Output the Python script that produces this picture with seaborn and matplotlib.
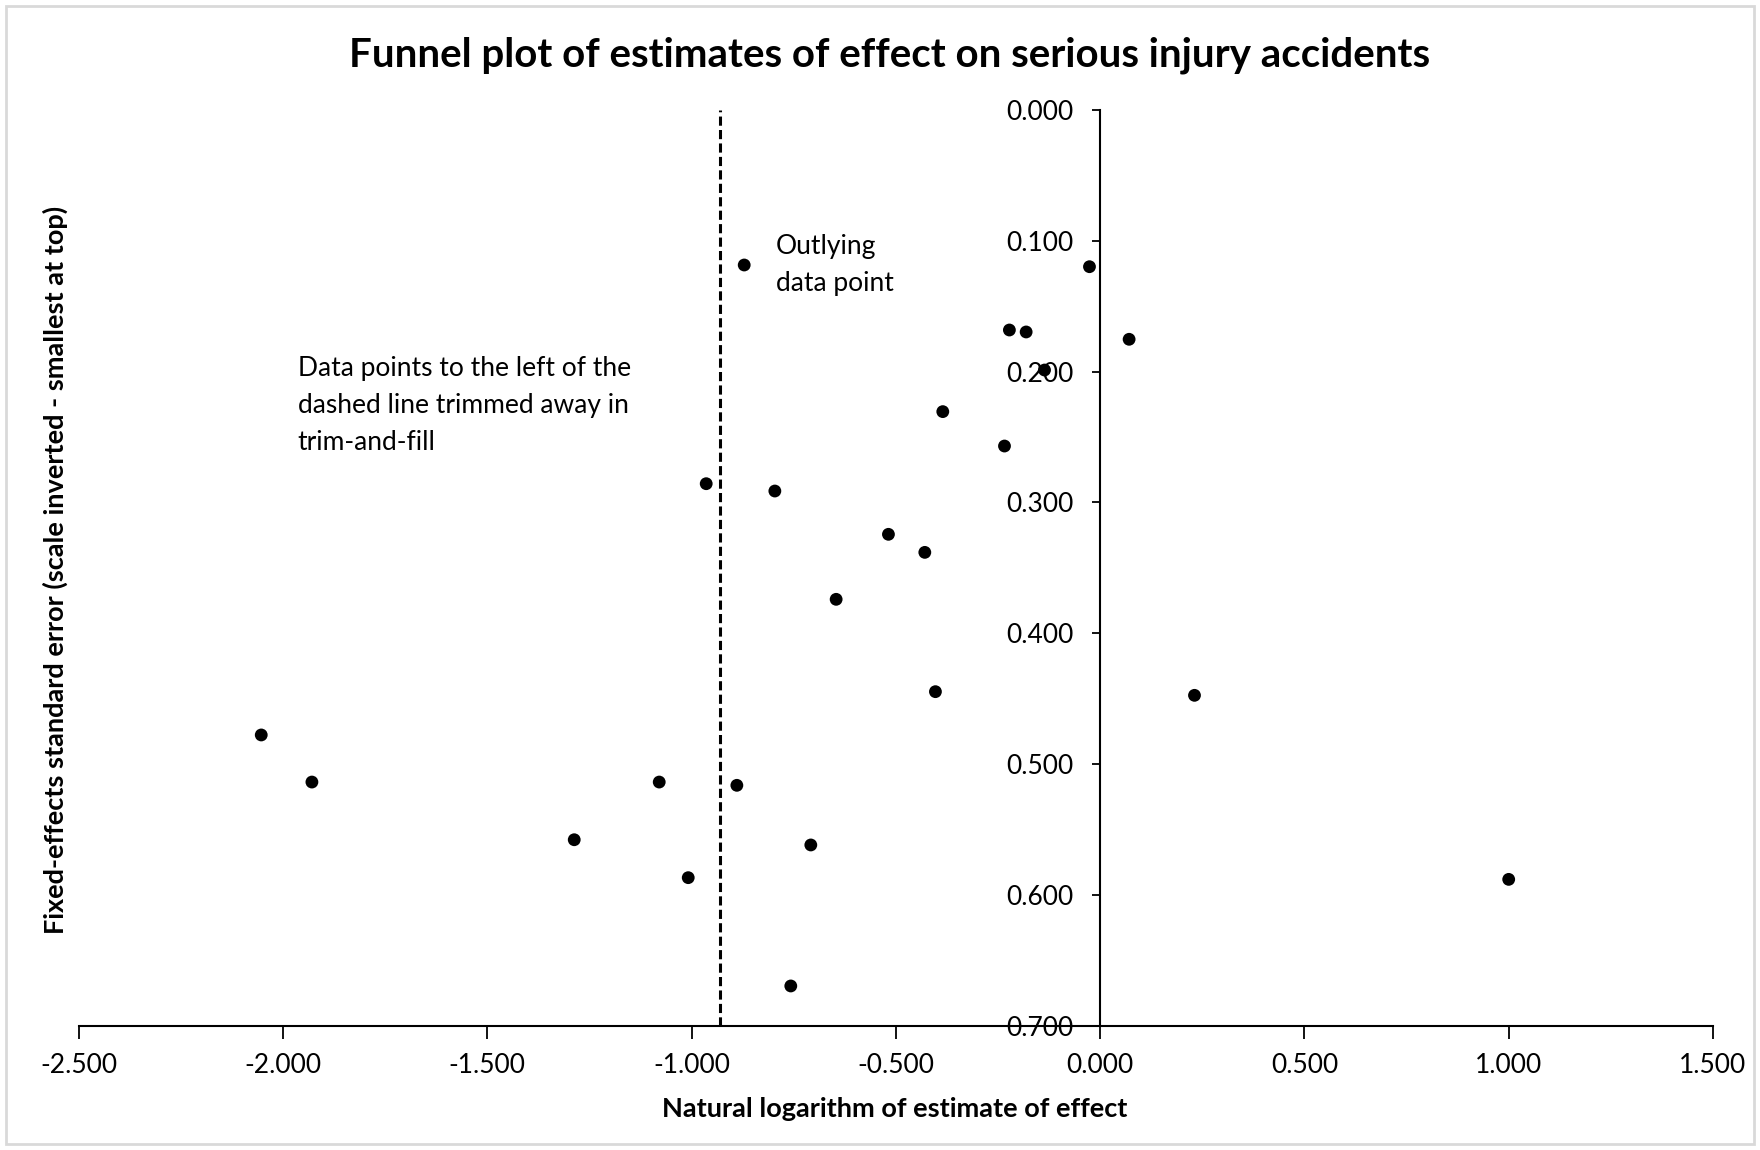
import matplotlib
matplotlib.use("Agg")
import matplotlib.pyplot as plt
from matplotlib.patches import Rectangle
from matplotlib.ticker import FormatStrFormatter
import seaborn as sns
import pandas as pd

# Log effect estimates and their fixed-effects standard errors
log_effect = [
    -0.871, -0.026, -0.222, -0.181, 0.071, -0.136, -0.385, -0.234,
    -0.964, -0.796, -0.518, -0.429, -0.646, -0.403, 0.231, -2.053,
    -1.929, -1.079, -0.889, -1.287, -0.708, -1.008, 1.000, -0.757,
]
std_error = [
    0.1185, 0.1198, 0.1682, 0.1697, 0.1753, 0.1988, 0.2306, 0.2569,
    0.2857, 0.2913, 0.3244, 0.3382, 0.3741, 0.4447, 0.4475, 0.4778,
    0.5138, 0.5138, 0.5163, 0.5579, 0.5619, 0.5869, 0.5882, 0.6697,
]
trim_cutoff = -0.930

x_ticks = [-2.5, -2.0, -1.5, -1.0, -0.5, 0.0, 0.5, 1.0, 1.5]
y_ticks = [0.0, 0.1, 0.2, 0.3, 0.4, 0.5, 0.6, 0.7]

title = "Funnel plot of estimates of effect on serious injury accidents"
x_label = "Natural logarithm of estimate of effect"
y_label = "Fixed-effects standard error (scale inverted - smallest at top)"
note_outlier = "Outlying\ndata point"
note_trim = "Data points to the left of the\ndashed line trimmed away in\ntrim-and-fill"

df = pd.DataFrame({"log_effect": log_effect, "std_error": std_error})

sns.set_style("white")
plt.rcParams["font.family"] = ["Lato", "DejaVu Sans"]

W, H = 1760, 1150
fig = plt.figure(figsize=(W / 100, H / 100), dpi=100)
ax = fig.add_axes([78.6 / W, 1 - 1025.6 / H, (1713 - 78.6) / W, (1025.6 - 110) / H])

sns.scatterplot(data=df, x="log_effect", y="std_error", ax=ax,
                color="black", s=85, edgecolor="none", linewidth=0, zorder=3)

ax.axvline(trim_cutoff, color="black", linewidth=2.2, dashes=(3, 1.4), zorder=2)

ax.set_xlim(-2.5, 1.5)
ax.set_ylim(0.7, 0.0)
ax.set_xticks(x_ticks)
ax.set_yticks(y_ticks)
ax.xaxis.set_major_formatter(FormatStrFormatter("%.3f"))
ax.yaxis.set_major_formatter(FormatStrFormatter("%.3f"))

ax.spines["top"].set_visible(False)
ax.spines["right"].set_visible(False)
ax.spines["left"].set_position(("data", 0.0))
for side in ("left", "bottom"):
    ax.spines[side].set_color("black")
    ax.spines[side].set_linewidth(1.5)

ax.tick_params(axis="x", direction="out", length=9, width=1.3, pad=11,
               labelsize=19, colors="black", bottom=True)
ax.tick_params(axis="y", direction="out", length=6, width=1.3, pad=13,
               labelsize=19, colors="black", left=True)
ax.set_xlabel("")
ax.set_ylabel("")
ax.grid(False)

ax.text(-0.794, 0.1185, note_outlier, ha="left", va="center",
        fontsize=19, linespacing=1.6, color="black")
ax.text(-1.964, 0.2260, note_trim, ha="left", va="center",
        fontsize=19, linespacing=1.6, color="black")

fig.text(890 / W, 1 - 55.5 / H, title, ha="center", va="center",
         fontsize=29, fontweight="bold", color="black")
fig.text(895 / W, 1 - 1109 / H, x_label, ha="center", va="center",
         fontsize=19.5, fontweight="bold", color="black")
fig.text(55 / W, 1 - 570 / H, y_label, ha="center", va="center",
         rotation=90, fontsize=19.5, fontweight="bold", color="black")

# Light chart-area frame
fig.patches.append(Rectangle((6 / W, 6 / H), 1 - 12 / W, 1 - 12 / H,
                             transform=fig.transFigure, fill=False,
                             edgecolor="#d9d9d9", linewidth=2.0))

fig.savefig("out.png", dpi=100, facecolor="white")
